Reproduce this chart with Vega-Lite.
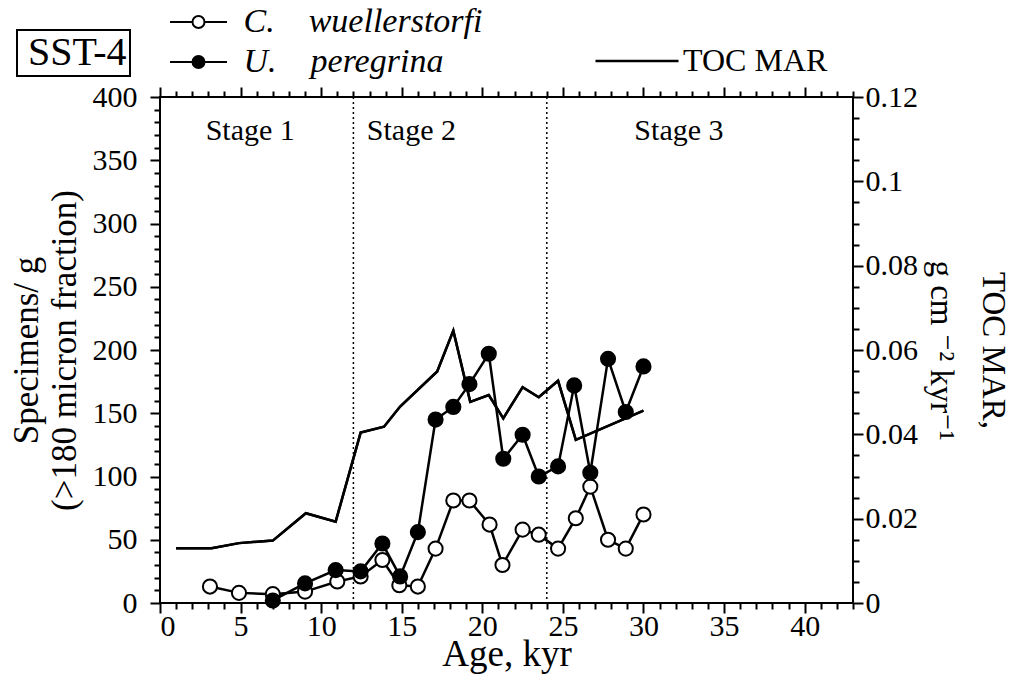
{
 "$schema": "https://vega.github.io/schema/vega-lite/v6.json",
 "autosize": {"type": "none"},
 "width": 693,
 "height": 506,
 "padding": {"left": 160, "top": 97, "right": 167, "bottom": 74},
 "background": "white",
 "config": {
  "font": "Liberation Serif, DejaVu Serif, serif",
  "view": {"stroke": "black", "strokeWidth": 2},
  "axis": {"grid": false, "domain": false, "tickColor": "black", "tickWidth": 2, "labelColor": "black", "titleColor": "black", "labelFont": "Liberation Serif, DejaVu Serif, serif", "titleFont": "Liberation Serif, DejaVu Serif, serif", "titleFontWeight": "normal", "labelFontSize": 30},
  "legend": {"strokeWidth": 2, "labelFont": "Liberation Serif, DejaVu Serif, serif", "labelColor": "black", "labelLimit": 600}
 },
 "datasets": {
  "species": [
   {"species": "C.\u2003wuellerstorfi", "age": 3.1, "value": 13},
   {"species": "C.\u2003wuellerstorfi", "age": 4.9, "value": 8},
   {"species": "C.\u2003wuellerstorfi", "age": 7.0, "value": 7},
   {"species": "C.\u2003wuellerstorfi", "age": 9.0, "value": 9},
   {"species": "C.\u2003wuellerstorfi", "age": 11.0, "value": 17},
   {"species": "C.\u2003wuellerstorfi", "age": 12.45, "value": 21},
   {"species": "C.\u2003wuellerstorfi", "age": 13.8, "value": 34},
   {"species": "C.\u2003wuellerstorfi", "age": 14.85, "value": 14},
   {"species": "C.\u2003wuellerstorfi", "age": 16.0, "value": 13},
   {"species": "C.\u2003wuellerstorfi", "age": 17.1, "value": 43},
   {"species": "C.\u2003wuellerstorfi", "age": 18.2, "value": 81},
   {"species": "C.\u2003wuellerstorfi", "age": 19.2, "value": 81},
   {"species": "C.\u2003wuellerstorfi", "age": 20.45, "value": 62},
   {"species": "C.\u2003wuellerstorfi", "age": 21.25, "value": 30},
   {"species": "C.\u2003wuellerstorfi", "age": 22.5, "value": 58},
   {"species": "C.\u2003wuellerstorfi", "age": 23.5, "value": 54},
   {"species": "C.\u2003wuellerstorfi", "age": 24.7, "value": 43},
   {"species": "C.\u2003wuellerstorfi", "age": 25.8, "value": 67},
   {"species": "C.\u2003wuellerstorfi", "age": 26.7, "value": 92},
   {"species": "C.\u2003wuellerstorfi", "age": 27.8, "value": 50},
   {"species": "C.\u2003wuellerstorfi", "age": 28.9, "value": 43},
   {"species": "C.\u2003wuellerstorfi", "age": 30.0, "value": 70},
   {"species": "U.\u2003peregrina", "age": 7.0, "value": 2},
   {"species": "U.\u2003peregrina", "age": 9.0, "value": 15.5},
   {"species": "U.\u2003peregrina", "age": 10.9, "value": 26},
   {"species": "U.\u2003peregrina", "age": 12.45, "value": 25},
   {"species": "U.\u2003peregrina", "age": 13.8, "value": 47},
   {"species": "U.\u2003peregrina", "age": 14.9, "value": 21},
   {"species": "U.\u2003peregrina", "age": 16.0, "value": 56},
   {"species": "U.\u2003peregrina", "age": 17.1, "value": 145},
   {"species": "U.\u2003peregrina", "age": 18.2, "value": 155},
   {"species": "U.\u2003peregrina", "age": 19.2, "value": 173},
   {"species": "U.\u2003peregrina", "age": 20.4, "value": 197},
   {"species": "U.\u2003peregrina", "age": 21.3, "value": 114},
   {"species": "U.\u2003peregrina", "age": 22.5, "value": 133},
   {"species": "U.\u2003peregrina", "age": 23.5, "value": 100},
   {"species": "U.\u2003peregrina", "age": 24.7, "value": 108},
   {"species": "U.\u2003peregrina", "age": 25.7, "value": 172},
   {"species": "U.\u2003peregrina", "age": 26.7, "value": 103},
   {"species": "U.\u2003peregrina", "age": 27.8, "value": 193},
   {"species": "U.\u2003peregrina", "age": 28.9, "value": 151},
   {"species": "U.\u2003peregrina", "age": 30.0, "value": 187}
  ],
  "toc": [
   {"age": 1.0, "toc": 0.013},
   {"age": 3.2, "toc": 0.013},
   {"age": 4.9, "toc": 0.0142},
   {"age": 7.0, "toc": 0.0148},
   {"age": 9.05, "toc": 0.0213},
   {"age": 10.9, "toc": 0.0193},
   {"age": 12.45, "toc": 0.0404},
   {"age": 13.9, "toc": 0.0418},
   {"age": 14.9, "toc": 0.0466},
   {"age": 17.2, "toc": 0.0549},
   {"age": 18.2, "toc": 0.0646},
   {"age": 19.25, "toc": 0.0477},
   {"age": 20.4, "toc": 0.0493},
   {"age": 21.3, "toc": 0.0438},
   {"age": 22.5, "toc": 0.0512},
   {"age": 23.5, "toc": 0.0488},
   {"age": 24.7, "toc": 0.0527},
   {"age": 25.8, "toc": 0.0387},
   {"age": 30.0, "toc": 0.0456}
  ],
  "stages": [
   {"label": "Stage 1", "age": 5.6, "value": 373},
   {"label": "Stage 2", "age": 15.6, "value": 373},
   {"label": "Stage 3", "age": 32.2, "value": 373}
  ],
  "bounds": [{"age": 12}, {"age": 24}]
 },
 "layer": [
  {
   "data": {"name": "bounds"},
   "mark": {"type": "rule", "color": "black", "strokeWidth": 1.5},
   "encoding": {
    "x": {"field": "age", "type": "quantitative", "scale": {"domain": [0, 43], "nice": false, "zero": false},
     "axis": {"orient": "bottom", "values": [0,5,10,15,20,25,30,35,40], "tickSize": 10,
      "labelPadding": -2, "title": "Age, kyr", "titleFontSize": 37, "titlePadding": -5}},
    "strokeDash": {"datum": "SST-4", "type": "nominal", "scale": {"range": [[2, 3]]},
     "legend": {"orient": "none", "legendX": -143, "legendY": -67, "title": null, "symbolType": "circle", "symbolSize": 1, "symbolStrokeWidth": 0, "symbolOpacity": 0, "labelFontSize": 40, "labelOffset": -32, "padding": 3, "strokeColor": "black", "labelExpr": "datum.label + '\u2009\u2009'"}}
   }
  },
  {
   "layer": [
    {"data": {"name": "species"}, "mark": {"type": "line", "color": "black", "strokeWidth": 2.5},
     "encoding": {
      "x": {"field": "age", "type": "quantitative",
       "axis": {"orient": "bottom", "values": [1,2,3,4,6,7,8,9,11,12,13,14,16,17,18,19,21,22,23,24,26,27,28,29,31,32,33,34,36,37,38,39,41,42,43], "tickSize": 6, "labels": false, "title": null}},
      "y": {"field": "value", "type": "quantitative", "scale": {"domain": [0, 400], "nice": false},
       "axis": {"orient": "left", "values": [0,50,100,150,200,250,300,350,400], "tickSize": 10,
        "labelPadding": 13, "title": ["Specimens/ g", "(>180 micron fraction)"], "titleFontSize": 35, "titleLineHeight": 38, "titlePadding": 10}},
      "detail": {"field": "species", "type": "nominal"}}},
    {"data": {"name": "species"}, "mark": {"type": "point", "shape": "circle", "filled": true, "stroke": "black", "strokeWidth": 2, "size": 200, "opacity": 1},
     "encoding": {
      "x": {"field": "age", "type": "quantitative",
       "axis": {"orient": "top", "values": [0,5,10,15,20,25,30,35,40], "tickSize": 10, "labels": false, "title": null}},
      "y": {"field": "value", "type": "quantitative",
       "axis": {"orient": "left", "values": [10,20,30,40,60,70,80,90,110,120,130,140,160,170,180,190,210,220,230,240,260,270,280,290,310,320,330,340,360,370,380,390], "tickSize": 6, "labels": false, "title": null}},
      "fill": {"field": "species", "type": "nominal", "scale": {"domain": ["C.\u2003wuellerstorfi", "U.\u2003peregrina"], "range": ["white", "black"]},
      "legend": {"orient": "none", "legendX": 21.5, "legendY": -92, "title": null, "direction": "vertical", "symbolType": "M-4.75,0H-1M1,0H4.75M1,0A1,1,0,1,1,-1,0A1,1,0,1,1,1,0Z", "symbolSize": 144, "symbolStrokeColor": "black", "symbolStrokeWidth": 2, "labelFontSize": 34, "labelFontStyle": "italic", "labelOffset": 28, "rowPadding": 6, "padding": 0}}}},
    {"data": {"name": "stages"}, "mark": {"type": "text", "fontSize": 30, "font": "Liberation Serif, DejaVu Serif, serif", "color": "black"},
     "encoding": {
      "x": {"field": "age", "type": "quantitative",
       "axis": {"orient": "top", "values": [1,2,3,4,6,7,8,9,11,12,13,14,16,17,18,19,21,22,23,24,26,27,28,29,31,32,33,34,36,37,38,39,41,42,43], "tickSize": 6, "labels": false, "title": null}},
      "y": {"field": "value", "type": "quantitative", "axis": null},
      "text": {"field": "label", "type": "nominal"}}}
   ],
   "resolve": {"axis": {"x": "independent", "y": "independent"}}
  },
  {
   "data": {"name": "toc"},
   "layer": [
    {"mark": {"type": "line", "strokeWidth": 2.5},
     "encoding": {
      "x": {"field": "age", "type": "quantitative", "axis": null},
      "y": {"field": "toc", "type": "quantitative", "scale": {"domain": [0, 0.12], "nice": false},
       "axis": {"orient": "right", "values": [0,0.02,0.04,0.06,0.08,0.1,0.12], "tickSize": 10,
        "labelExpr": "format(datum.value, '~g')",
        "labelPadding": 2, "title": ["TOC MAR,", "g cm \u207b\u00b2 kyr\u207b\u00b9"], "titleFontSize": 33, "titleLineHeight": 52, "titlePadding": 6}},
      "stroke": {"datum": "TOC MAR", "type": "nominal", "scale": {"range": ["black"]},
       "legend": {"orient": "none", "legendX": 434, "legendY": -79, "title": null, "symbolType": "stroke", "symbolSize": 6889, "symbolStrokeWidth": 2.5, "labelFontSize": 32, "labelOffset": 3, "padding": 0}}}},
    {"mark": {"type": "line", "strokeWidth": 2.5, "color": "black"},
     "encoding": {
      "x": {"field": "age", "type": "quantitative", "axis": null},
      "y": {"field": "toc", "type": "quantitative",
       "axis": {"orient": "right", "values": [0.005,0.01,0.015,0.025,0.03,0.035,0.045,0.05,0.055,0.065,0.07,0.075,0.085,0.09,0.095,0.105,0.11,0.115], "tickSize": 6, "labels": false, "title": null}}}}
   ],
   "resolve": {"axis": {"y": "independent"}}
  }
 ],
 "resolve": {"scale": {"y": "independent"}, "axis": {"x": "independent", "y": "independent"}}
}
